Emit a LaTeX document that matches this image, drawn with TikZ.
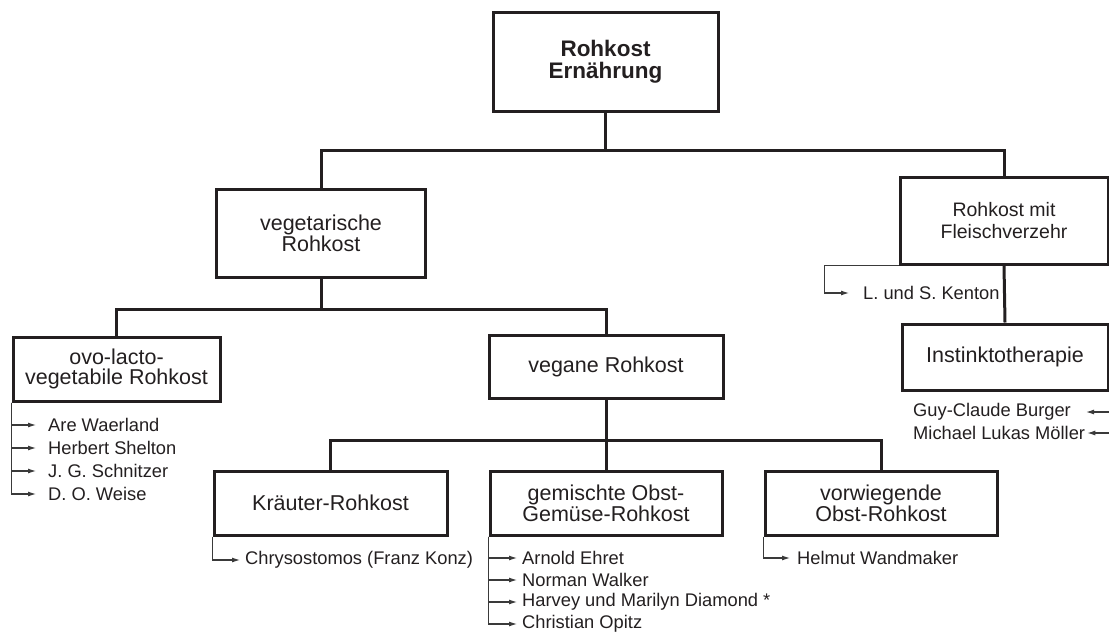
\documentclass[tikz,border=0pt]{standalone}
\usepackage{fontspec}
\setmainfont{Liberation Sans}
\usetikzlibrary{arrows.meta}
\definecolor{ink}{HTML}{231F20}
\definecolor{thin}{HTML}{3A3A3A}
\tikzset{
  box/.style={draw=ink, line width=3pt, text=ink, align=center, inner sep=0pt,
    font=\fontsize{21.5}{19.5}\selectfont},
  conn/.style={draw=ink, line width=3pt},
  lst/.style={draw=thin, line width=1.1pt, -{Latex[length=8pt,width=5pt]}},
  item/.style={anchor=west, inner sep=0pt, text=ink, font=\fontsize{18.3}{18.3}\selectfont}
}
\begin{document}
\begin{tikzpicture}[x=1pt,y=-1pt]
\useasboundingbox (0,0) rectangle (1109,632);
% boxes
\node[box, minimum width=225pt, minimum height=99pt, font=\bfseries\fontsize{22.5}{22}\selectfont] (root) at (605.5,61.5) {Rohkost\\Ernährung};
\node[box, minimum width=209pt, minimum height=88pt] (veg) at (321,233) {vegetarische\\Rohkost};
\node[box, minimum width=208pt, minimum height=87pt, font=\fontsize{19.5}{22}\selectfont] (fl) at (1004,220.5) {Rohkost mit\\Fleischverzehr};
\node[box, minimum width=206pt, minimum height=66pt] (inst) at (1005,357) {Instinktotherapie};
\node[box, minimum width=207pt, minimum height=64pt, font=\fontsize{21.5}{20.5}\selectfont] (ovo) at (116.5,369) {ovo-lacto-\\vegetabile Rohkost};
\node[box, minimum width=234pt, minimum height=63pt] (vegan) at (606,366.5) {vegane Rohkost};
\node[box, minimum width=233pt, minimum height=64pt] (kr) at (330.5,503) {Kräuter-Rohkost};
\node[box, minimum width=232pt, minimum height=64pt] (gem) at (606,503) {gemischte Obst-\\Gemüse-Rohkost};
\node[box, minimum width=232pt, minimum height=64pt] (vor) at (881,503) {vorwiegende\\Obst-Rohkost};
% tree connectors
\draw[conn] (root.south) -- ++(0,38) coordinate (h1) -| (veg.north);
\draw[conn] (h1) -| (fl.north);
\draw[conn] (fl.south) -- (inst.north);
\draw[conn] (veg.south) -- ++(0,31) coordinate (h2) -| (ovo.north);
\draw[conn] (h2) -| (vegan.north);
\draw[conn] (vegan.south) -- ++(0,40.5) coordinate (h3) -| (kr.north);
\draw[conn] (h3) -| (vor.north);
\draw[conn] (h3) -- (gem.north);
% list items
\node[item] (a1) at (48,425) {Are Waerland};
\node[item] (a2) at (48,448) {Herbert Shelton};
\node[item] (a3) at (48,471) {J. G. Schnitzer};
\node[item] (a4) at (48,494) {D. O. Weise};
\foreach \i in {1,...,4}{\draw[lst, shorten >=12pt] (ovo.south west) |- (a\i.west);}
\node[item] (k1) at (245,560) {Chrysostomos (Franz Konz)};
\draw[lst, shorten >=5pt] (kr.south west) |- (k1.west);
\node[item] (g1) at (522,558) {Arnold Ehret};
\node[item] (g2) at (522,580) {Norman Walker};
\node[item] (g3) at (522,602) {Harvey und Marilyn Diamond *};
\node[item] (g4) at (522,624) {Christian Opitz};
\foreach \i in {1,...,4}{\draw[lst, shorten >=5pt] (gem.south west) |- (g\i.west);}
\node[item] (w1) at (797,558) {Helmut Wandmaker};
\draw[lst, shorten >=7pt] (vor.south west) |- (w1.west);
\node[item] (ken) at (863,293) {L. und S. Kenton};
\draw[lst, shorten >=14pt] (fl.south west) -- ++(-74,0) |- (ken.west);
\node[item] (gc) at (913,412) {Guy-Claude Burger};
\node[item] (ml) at (913,433) {Michael Lukas Möller};
\coordinate (gR) at (1109,412);
\coordinate (mR) at (1109,433);
\draw[lst, shorten >=15pt] (gR) -- (gc.east);
\draw[lst, shorten >=2pt] (mR) -- (ml.east);
\end{tikzpicture}
\end{document}
